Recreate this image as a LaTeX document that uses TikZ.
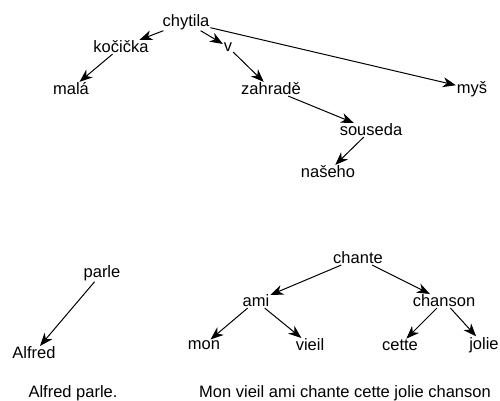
\documentclass[tikz,border=0pt]{standalone}
\usepackage{fontspec}
\setmainfont{Liberation Sans}
\usepackage{tikz}
\usetikzlibrary{arrows.meta}

\begin{document}
\begin{tikzpicture}[x=1pt,y=-1pt,
	every node/.style={font=\fontsize{16.5}{19}\selectfont,inner sep=0.5pt},
	>={Stealth[length=13pt,width=10pt,inset=4pt]},line width=1pt]
	\useasboundingbox (0,0) rectangle (500,400);
	% first sentence
	\node (chytila) at (186,22) {chytila};
	\node (kocicka) at (121,47) {kočička};
	\node (mala) at (71,89) {malá};
	\node (v) at (228,47) {v};
	\node (zahrade) at (271,89) {zahradě};
	\node (mys) at (472,89) {myš};
	\node (souseda) at (371,130) {souseda};
	\node (naseho) at (328,172) {našeho};
	\draw [->] (chytila) to (kocicka);
	\draw [->] (kocicka) to (mala);
	\draw [->] (chytila) to (v);
	\draw [->] (v) to (zahrade);
	\draw [->] (chytila) to (mys);
	\draw [->] (zahrade) to (souseda);
	\draw [->] (souseda) to (naseho);
	% Alfred parle.
	\node (parle) at (102,273) {parle};
	\node (alfred) at (34,353) {Alfred};
	\node (s2) at (73,393) {Alfred parle.};
	\draw [->] (parle) to (alfred);
	% Mon vieil ami ...
	\node (chante) at (358,258) {chante};
	\node (ami) at (256,301) {ami};
	\node (chanson) at (444,301) {chanson};
	\node (mon) at (204,345) {mon};
	\node (vieil) at (310,345) {vieil};
	\node (cette) at (400,345) {cette};
	\node (jolie) at (484,345) {jolie};
	\node (s3) at (345,393) {Mon vieil ami chante cette jolie chanson};
	\draw [->] (chante) to (ami);
	\draw [->] (chante) to (chanson);
	\draw [->] (ami) to (mon);
	\draw [->] (ami) to (vieil);
	\draw [->] (chanson) to (cette);
	\draw [->] (chanson) to (jolie);
\end{tikzpicture}
\end{document}
